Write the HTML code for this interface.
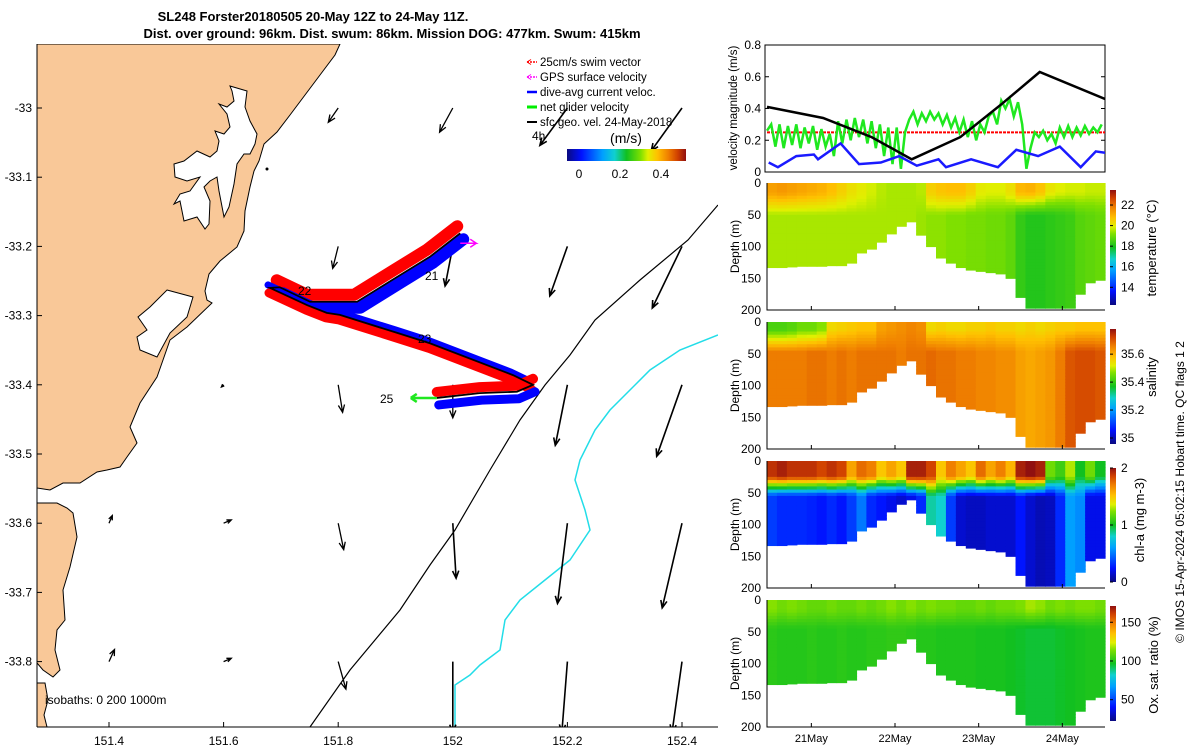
<!DOCTYPE html>
<html><head><meta charset="utf-8"><style>
html,body{margin:0;padding:0;background:#fff;}
svg{display:block;font-family:"Liberation Sans",sans-serif;}
</style></head><body>
<svg id="s" width="1200" height="750" viewBox="0 0 1200 750" xmlns="http://www.w3.org/2000/svg">
<defs>
<clipPath id="mapclip"><rect x="37" y="44" width="681" height="683"/></clipPath>
<clipPath id="velclip"><rect x="765" y="45" width="340" height="127"/></clipPath>
<linearGradient id="cbh" x1="0" x2="1" y1="0" y2="0">
<stop offset="0" stop-color="#0a0a80"/><stop offset="0.12" stop-color="#0010ff"/><stop offset="0.3" stop-color="#00a0ff"/><stop offset="0.4" stop-color="#10d0d0"/><stop offset="0.5" stop-color="#10c020"/><stop offset="0.62" stop-color="#80e000"/><stop offset="0.68" stop-color="#e0f000"/><stop offset="0.76" stop-color="#ffc000"/><stop offset="0.85" stop-color="#f08000"/><stop offset="0.93" stop-color="#d04000"/><stop offset="1" stop-color="#901010"/>
</linearGradient>
<linearGradient id="cbv" x1="0" x2="0" y1="1" y2="0">
<stop offset="0" stop-color="#0a0a80"/><stop offset="0.12" stop-color="#0010ff"/><stop offset="0.3" stop-color="#00a0ff"/><stop offset="0.4" stop-color="#10d0d0"/><stop offset="0.5" stop-color="#10c020"/><stop offset="0.62" stop-color="#80e000"/><stop offset="0.68" stop-color="#e0f000"/><stop offset="0.76" stop-color="#ffc000"/><stop offset="0.85" stop-color="#f08000"/><stop offset="0.93" stop-color="#d04000"/><stop offset="1" stop-color="#901010"/>
</linearGradient>
</defs>
<text x="313" y="21" font-size="13" font-weight="bold" text-anchor="middle">SL248 Forster20180505 20-May 12Z to 24-May 11Z.</text>
<text x="392" y="38" font-size="13" font-weight="bold" text-anchor="middle">Dist. over ground: 96km. Dist. swum: 86km. Mission DOG: 477km. Swum: 415km</text>

<g id="map">
<g clip-path="url(#mapclip)">
<path fill="#f9c898" stroke="#000" stroke-width="1" d="M37,44 L340,44 L335,55 L320,75 L305,95 L290,115 L277,132 L264,144 L259,161 L254,171 L250,187 L245,211 L244,231 L237,247 L220,261 L209,274 L205,291 L207,300 L212,303 L187,327 L170,340 L163,360 L157,377 L140,403 L130,427 L137,443 L127,457 L120,467 L107,470 L97,472 L80,483 L63,483 L50,490 L37,488 Z"/>
<path fill="#fff" stroke="#000" stroke-width="1" d="M230,86 L247,91 L245,107 L250,121 L257,134 L255,144 L250,154 L244,154 L237,164 L234,184 L229,207 L224,217 L219,191 L217,177 L210,181 L204,187 L210,201 L209,224 L205,229 L197,217 L184,221 L180,201 L174,204 L180,194 L190,191 L200,177 L187,181 L175,177 L174,164 L184,161 L197,151 L210,157 L217,151 L219,141 L215,131 L224,134 L230,127 L227,114 L219,104 L227,107 L234,101 L232,91 Z"/>
<circle cx="267" cy="169" r="1.5" fill="#000"/>
<path fill="#fff" stroke="#000" stroke-width="1" d="M167,290 L193,297 L187,317 L170,333 L157,357 L140,350 L137,337 L147,330 L138,317 L150,307 Z"/>
<path fill="#f9c898" stroke="#000" stroke-width="1" d="M37,503 L57,503 L67,508 L73,513 L77,537 L70,567 L63,590 L65,620 L57,630 L55,650 L60,670 L53,677 L43,670 L37,663 Z"/>
<path fill="#f9c898" stroke="#000" stroke-width="1" d="M37,683 L45,683 L48,700 L44,715 L47,727 L37,727 Z"/>
<polyline fill="none" stroke="#000" stroke-width="1.2" points="718,205 688,240 640,280 595,320 570,355 545,385 520,420 490,470 455,530 430,565 400,610 350,670 310,727"/>
<polyline fill="none" stroke="#22dde8" stroke-width="1.5" points="718,335 680,350 650,370 630,390 610,410 595,430 580,460 575,480 585,510 590,530 570,560 545,580 520,600 505,620 500,650 480,665 470,675 455,685 455,715 455,727"/>
<g id="arrows"></g>
<g id="track"></g>
</g>
<line x1="37" y1="44" x2="37" y2="727" stroke="#000"/>
<line x1="37" y1="727" x2="718" y2="727" stroke="#000"/>
<g id="mapticks" font-size="12"></g>
<text x="45" y="704" font-size="12">isobaths: 0   200  1000m</text>
<g font-size="11.5">
<g><line x1="527" y1="62" x2="537" y2="62" stroke="#f00" stroke-dasharray="2,1" stroke-width="1.5"/><path d="M527,62 l4,-2.5 M527,62 l4,2.5" stroke="#f00"/><text x="540" y="66">25cm/s swim vector</text></g>
<g><line x1="527" y1="77" x2="537" y2="77" stroke="#f0f" stroke-dasharray="2,1" stroke-width="1.5"/><path d="M527,77 l4,-2.5 M527,77 l4,2.5" stroke="#f0f"/><text x="540" y="81">GPS surface velocity</text></g>
<g><line x1="527" y1="92" x2="537" y2="92" stroke="#00f" stroke-width="2.5"/><text x="540" y="96">dive-avg current veloc.</text></g>
<g><line x1="527" y1="107" x2="537" y2="107" stroke="#0e0" stroke-width="3"/><text x="540" y="111">net glider velocity</text></g>
<g><line x1="527" y1="122" x2="537" y2="122" stroke="#000" stroke-width="2"/><text x="540" y="126">sfc geo. vel. 24-May-2018</text></g>
<text x="532" y="140" font-size="12">4h</text>
<text x="626" y="143" font-size="14" text-anchor="middle">(m/s)</text>
<rect x="567" y="149" width="119" height="12" fill="url(#cbh)"/>
<text x="579" y="178" font-size="12" text-anchor="middle">0</text>
<text x="620" y="178" font-size="12" text-anchor="middle">0.2</text>
<text x="661" y="178" font-size="12" text-anchor="middle">0.4</text>
</g>
</g>

<g id="vel">
<rect x="765" y="45" width="340" height="127" fill="#fff" stroke="#000"/>
<g id="velticks" font-size="12"></g>
<text transform="translate(737,108) rotate(-90)" font-size="11.5" text-anchor="middle">velocity magnitude (m/s)</text>
<g id="vellines" clip-path="url(#velclip)"></g>
</g>
<g id="sections"></g>
<text transform="translate(1184,492) rotate(-90)" font-size="12" text-anchor="middle">© IMOS 15-Apr-2024 05:02:15 Hobart time. QC flags 1  2</text>
</svg>
<script>
const NS='http://www.w3.org/2000/svg';
function mk(tag,attrs,parent){const e=document.createElementNS(NS,tag);for(const k in attrs)e.setAttribute(k,attrs[k]);parent.appendChild(e);return e;}

// ---------- velocity data ----------
const blackT=[20.47,21.14,21.72,22.20,22.78,23.28,23.73,24.51];
const blackV=[0.41,0.34,0.22,0.08,0.22,0.43,0.63,0.46];
const blueT=[20.49,20.60,20.82,21.03,21.08,21.35,21.57,21.83,22.05,22.26,22.52,22.61,22.91,23.23,23.45,23.71,23.97,24.22,24.40,24.52];
const blueV=[0.06,0.03,0.10,0.11,0.08,0.18,0.05,0.06,0.10,0.04,0.08,0.03,0.08,0.03,0.14,0.10,0.16,0.03,0.13,0.12];
const greenStart=20.47, greenStep=0.05;
const greenV=[0.26,0.30,0.16,0.30,0.15,0.29,0.17,0.30,0.15,0.28,0.18,0.29,0.14,0.27,0.16,0.24,0.10,
0.32,0.18,0.33,0.20,0.34,0.22,0.33,0.18,0.32,0.15,0.30,0.10,0.28,0.05,
0.28,0.02,0.25,
0.33,0.38,0.30,0.37,0.32,0.38,0.33,0.37,
0.30,0.36,0.28,0.34,0.25,0.33,0.22,0.32,0.20,0.30,0.25,0.35,
0.38,0.30,0.45,0.40,0.46,0.35,0.44,0.30,
0.02,0.15,
0.25,0.22,0.26,0.20,0.24,0.18,0.28,0.22,0.29,0.22,0.28,0.23,0.29,0.24,0.28,0.25,0.30];
const swimSpeed=0.25;
const velTicks=[0,0.2,0.4,0.6,0.8];
const dateTicks=[21,22,23,24];
const dateLabels=['21May','22May','23May','24May'];

const T0=20.47,T1=24.51;
function tx(t){return 767+(t-T0)/(T1-T0)*338;}
function vy(v){return 172-v/0.8*127;}

const vt=document.getElementById('velticks');
velTicks.forEach(v=>{
  const t=mk('text',{x:761,y:vy(v)+4,'text-anchor':'end'},vt);t.textContent=v;
  
  
  mk('line',{x1:765,y1:vy(v),x2:769,y2:vy(v),stroke:'#000'},vt);
  mk('line',{x1:1101,y1:vy(v),x2:1105,y2:vy(v),stroke:'#000'},vt);
});
const vl=document.getElementById('vellines');
function poly(ts,vs,attrs,name){
  const p=mk('polyline',Object.assign({fill:'none',points:ts.map((t,i)=>tx(t).toFixed(1)+','+vy(vs[i]).toFixed(1)).join(' ')},attrs),vl);
  
  
}
const rl=mk('line',{x1:tx(T0),x2:tx(T1),y1:vy(swimSpeed),y2:vy(swimSpeed),stroke:'#f00','stroke-width':2,'stroke-dasharray':'3,1'},vl);


poly(greenV.map((v,i)=>greenStart+i*greenStep),greenV,{stroke:'#1fe81f','stroke-width':2.5},'net-glider-velocity-line');
poly(blueT,blueV,{stroke:'#1a1aff','stroke-width':2.5},'dive-avg-current-line');
poly(blackT,blackV,{stroke:'#000','stroke-width':2.5},'sfc-geo-velocity-line');

// ---------- colormap ----------
const stops=[[0,[10,10,128]],[0.12,[0,16,255]],[0.3,[0,160,255]],[0.4,[16,208,208]],[0.5,[16,192,32]],[0.62,[128,224,0]],[0.68,[224,240,0]],[0.76,[255,192,0]],[0.85,[240,128,0]],[0.93,[208,64,0]],[1,[144,16,16]]];
function cmap(f){f=Math.max(0,Math.min(1,f));for(let i=1;i<stops.length;i++){if(f<=stops[i][0]){const a=stops[i-1],b=stops[i];const r=(f-a[0])/(b[0]-a[0]);const c=a[1].map((x,k)=>Math.round(x+(b[1][k]-x)*r));return 'rgb('+c.join(',')+')';}}return 'rgb(144,16,16)';}

// ---------- section data ----------
const bottomDepth=[133,133,132,131,131,131,130,130,126,110,104,93,80,68,61,82,100,118,126,133,137,139,141,143,150,180,197,197,197,197,197,175,157,153];
const tempSurf=[21.3,21.4,21.3,21.2,21.1,21.0,20.8,20.5,20.2,20.0,19.8,19.6,19.5,19.5,19.5,19.6,20.5,20.7,20.8,20.8,20.5,20.0,19.9,19.9,20.2,20.9,21.0,20.7,20.1,19.9,19.8,19.8,19.7,19.7];
const tempDeep=[19.5,19.5,19.5,19.5,19.5,19.5,19.5,19.5,19.5,19.5,19.5,19.5,19.5,19.5,19.5,19.4,19.3,19.3,19.2,19.2,19.1,19.1,19.0,19.0,18.8,18.3,18.1,18.1,18.2,18.3,18.4,18.7,18.8,18.9];
const salSurf=[35.42,35.42,35.43,35.45,35.45,35.47,35.55,35.56,35.57,35.58,35.58,35.62,35.63,35.64,35.65,35.64,35.55,35.56,35.55,35.55,35.56,35.56,35.57,35.56,35.56,35.55,35.56,35.55,35.56,35.57,35.57,35.58,35.58,35.58];
const salDeep=[35.66,35.66,35.66,35.66,35.67,35.67,35.66,35.67,35.66,35.67,35.67,35.67,35.67,35.66,35.67,35.67,35.68,35.67,35.67,35.66,35.66,35.65,35.65,35.64,35.64,35.62,35.61,35.62,35.63,35.66,35.70,35.71,35.71,35.70];
const chlSurf=[1.9,1.95,1.9,1.9,1.9,1.85,1.9,1.85,1.6,1.75,1.7,1.5,1.6,1.5,1.95,1.95,1.85,1.5,1.7,1.6,1.5,1.75,1.6,1.7,1.55,1.95,2.0,1.95,1.2,1.1,1.3,1.0,1.2,1.0];
const chlDeep=[0.35,0.3,0.3,0.3,0.28,0.25,0.3,0.25,0.35,0.5,0.3,0.25,0.2,0.15,0.2,0.3,0.85,0.8,0.35,0.15,0.12,0.12,0.15,0.15,0.15,0.25,0.15,0.1,0.12,0.3,0.6,0.55,0.2,0.2];
const oxSurf=[115,112,114,112,110,110,112,110,110,112,110,112,115,112,115,112,114,112,112,110,110,112,110,112,112,114,118,116,112,114,112,114,114,112];
const oxDeep=[101,100,100,100,101,100,100,101,100,100,101,101,102,102,101,100,100,99,99,99,99,98,98,98,97,96,95,95,95,96,97,98,99,99];
const depthTicks=[0,50,100,150,200];

const X0=767,X1=1105,NC=bottomDepth.length,NR=40;
const panels=[
 {name:'temperature',top:183,surf:tempSurf,deep:tempDeep,vmin:12.28,vmax:23.46,mld:15,trans:35,cb:[190,305],ticks:[14,16,18,20,22],label:'temperature (°C)',lx:1156,ly:248},
 {name:'salinity',top:322,surf:salSurf,deep:salDeep,vmin:34.957,vmax:35.78,mld:12,trans:35,cb:[329,444],ticks:[35,35.2,35.4,35.6],label:'salinity',lx:1156,ly:377},
 {name:'chlorophyll',top:461,surf:chlSurf,deep:chlDeep,vmin:0,vmax:2,mld:25,trans:30,cb:[468,582],ticks:[0,1,2],label:'chl-a (mg m-3)',lx:1144,ly:520},
 {name:'oxygen',top:600,surf:oxSurf,deep:oxDeep,vmin:22.5,vmax:171,mld:15,trans:30,cb:[606,721],ticks:[50,100,150],label:'Ox. sat. ratio (%)',lx:1158,ly:665}
];
const sec=document.getElementById('sections');
panels.forEach(p=>{
  const g=mk('g',{},sec);
  
  
  const H=127;
  const dy=d=>p.top+d/200*H;
  const cw=(X1-X0)/NC;
  for(let i=0;i<NC;i++){
    for(let r=0;r<NR;r++){
      const d0=r*5,d1=d0+5;
      if(d0>=bottomDepth[i])break;
      const dm=(d0+d1)/2;
      let v;
      if(dm<=p.mld)v=p.surf[i];
      else{const f=Math.min(1,(dm-p.mld)/p.trans);v=p.surf[i]+(p.deep[i]-p.surf[i])*f;}
      const c=cmap((v-p.vmin)/(p.vmax-p.vmin));
      const rc=mk('rect',{x:(X0+i*cw).toFixed(2),y:dy(d0).toFixed(2),width:(cw+0.6).toFixed(2),height:(Math.min(d1,bottomDepth[i])-d0)/200*H+0.6,fill:c},g);
      
      
    }
  }
  const ax=mk('path',{d:`M${X0},${p.top} V${p.top+H} H${X1}`,fill:'none',stroke:'#000'},g);
  
  
  depthTicks.forEach(d=>{
    const t=mk('text',{x:761,y:dy(d)+4,'text-anchor':'end','font-size':12},g);t.textContent=d;
    
    
  });
  dateTicks.forEach(t=>{mk('line',{x1:tx(t),x2:tx(t),y1:p.top+H,y2:p.top+H-4,stroke:'#000'},g);});
  const yl=mk('text',{transform:`translate(739,${p.top+H/2}) rotate(-90)`,'text-anchor':'middle','font-size':12},g);yl.textContent='Depth (m)';
  
  
  const cb=mk('rect',{x:1110,y:p.cb[0],width:6,height:p.cb[1]-p.cb[0],fill:'url(#cbv)'},g);
  
  
  p.ticks.forEach(v=>{
    const y=p.cb[1]-(v-p.vmin)/(p.vmax-p.vmin)*(p.cb[1]-p.cb[0]);
    mk('line',{x1:1110,x2:1113,y1:y,y2:y,stroke:'#000'},g);
    const t=mk('text',{x:1121,y:y+4,'font-size':12},g);t.textContent=v;
    
    
  });
  const lb=mk('text',{transform:`translate(${p.lx},${p.ly}) rotate(-90)`,'text-anchor':'middle','font-size':13},g);lb.textContent=p.label;
  
  
});
dateTicks.forEach((t,i)=>{
  const e=mk('text',{x:tx(t),y:742,'text-anchor':'middle','font-size':11},sec);e.textContent=dateLabels[i];
  
  
});

// ---------- map data ----------
const lonTicks=[151.4,151.6,151.8,152,152.2,152.4];
const latTicks=[-33,-33.1,-33.2,-33.3,-33.4,-33.5,-33.6,-33.7,-33.8];
const trackLon=[152.013,151.960,151.903,151.833,151.751,151.698,151.681,151.746,151.780,151.803,151.903,151.960,152.105,152.140,152.112,152.047,151.972];
const trackLat=[-33.181,-33.215,-33.244,-33.280,-33.280,-33.259,-33.260,-33.285,-33.296,-33.299,-33.325,-33.340,-33.386,-33.400,-33.410,-33.412,-33.419];
const gridLon=[151.4,151.6,151.8,152.0,152.2,152.4];
const gridLat=[-33.0,-33.2,-33.4,-33.6,-33.8];
const geoU=[[null,null,-0.09,-0.12,-0.25,-0.28],[null,null,-0.05,-0.07,-0.16,-0.27],[null,-0.02,0.04,0.0,-0.11,-0.23],[0.03,0.07,0.05,0.03,-0.09,-0.18],[0.05,0.07,0.07,0.0,-0.05,-0.09]];
const geoV=[[null,null,-0.13,-0.22,-0.34,-0.39],[null,null,-0.20,-0.36,-0.45,-0.56],[null,-0.02,-0.25,-0.30,-0.55,-0.65],[0.07,0.03,-0.24,-0.50,-0.73,-0.77],[0.11,0.03,-0.25,-0.64,-0.64,-0.64]];
const arrowScale=110;
function lx(lon){return 109+(lon-151.4)*573;}
function ly(lat){return 108+(-33-lat)*692;}

const mt=document.getElementById('mapticks');
lonTicks.forEach(v=>{
  mk('line',{x1:lx(v),x2:lx(v),y1:727,y2:722,stroke:'#000'},mt);
  const t=mk('text',{x:lx(v),y:745,'text-anchor':'middle'},mt);t.textContent=v;
  
  
});
latTicks.forEach(v=>{
  mk('line',{x1:37,x2:42,y1:ly(v),y2:ly(v),stroke:'#000'},mt);
  const t=mk('text',{x:32,y:ly(v)+4,'text-anchor':'end'},mt);t.textContent=v;
  
  
});

const ag=document.getElementById('arrows');
gridLat.forEach((la,r)=>gridLon.forEach((lo,c)=>{
  const u=geoU[r][c],v=geoV[r][c];if(u===null)return;
  const x0=lx(lo),y0=ly(la),x1=x0+u*arrowScale,y1=y0-v*arrowScale;
  const L=Math.hypot(x1-x0,y1-y0);const h=Math.min(8,L*0.35+2);const ang=Math.atan2(y1-y0,x1-x0);
  const d=`M${x0},${y0} L${x1},${y1} M${x1-h*Math.cos(ang-0.4)},${y1-h*Math.sin(ang-0.4)} L${x1},${y1} L${x1-h*Math.cos(ang+0.4)},${y1-h*Math.sin(ang+0.4)}`;
  const a=mk('path',{d:d,stroke:'#000','stroke-width':L>40?1.6:1.3,fill:'none'},ag);
  
  
}));

const tg=document.getElementById('track');
const pts=trackLon.map((lo,i)=>[lx(lo),ly(trackLat[i])]);
function band(idx,dx,dy,col,w,name){
  const p=mk('polyline',{points:idx.map(i=>(pts[i][0]+dx)+','+(pts[i][1]+dy)).join(' '),fill:'none',stroke:col,'stroke-width':w,'stroke-linejoin':'round','stroke-linecap':'round'},tg);
  
  
}
band([0,1,2,3,4,5],-3,-7,'#f00',12,'swim-vectors-leg1');
band([0,1,2,3,4,5],3,6,'#00f',12,'current-vectors-leg1');
band([6,7,8,9,10,11,12,13],-2,-3,'#00f',7,'current-vectors-leg2');
band([6,7,8,9,10,11,12,13],-1,5,'#f00',9,'swim-vectors-leg2');
band([13,14,15,16],0,-6,'#f00',10,'swim-vectors-leg3');
band([13,14,15,16],2,7,'#00f',9,'current-vectors-leg3');
const tl=mk('polyline',{points:pts.map(p=>p.join(',')).join(' '),fill:'none',stroke:'#000','stroke-width':1.8},tg);


const ga=mk('path',{d:`M${pts[16][0]},${pts[16][1]} h-26 M${pts[16][0]-26},${pts[16][1]} l6,-4 M${pts[16][0]-26},${pts[16][1]} l6,4`,stroke:'#1fe81f','stroke-width':2.5,fill:'none'},tg);


const ma=mk('path',{d:`M${pts[0][0]},${pts[0][1]+10} h16 l-6,-4 M${pts[0][0]+16},${pts[0][1]+10} l-6,4`,stroke:'#f0f','stroke-width':1.5,fill:'none'},tg);


[['22',298,295],['23',418,343],['25',380,403],['21',425,280]].forEach(l=>{
  const t=mk('text',{x:l[1],y:l[2],'font-size':12},tg);t.textContent=l[0];
  
  
});
</script>
</body></html>
